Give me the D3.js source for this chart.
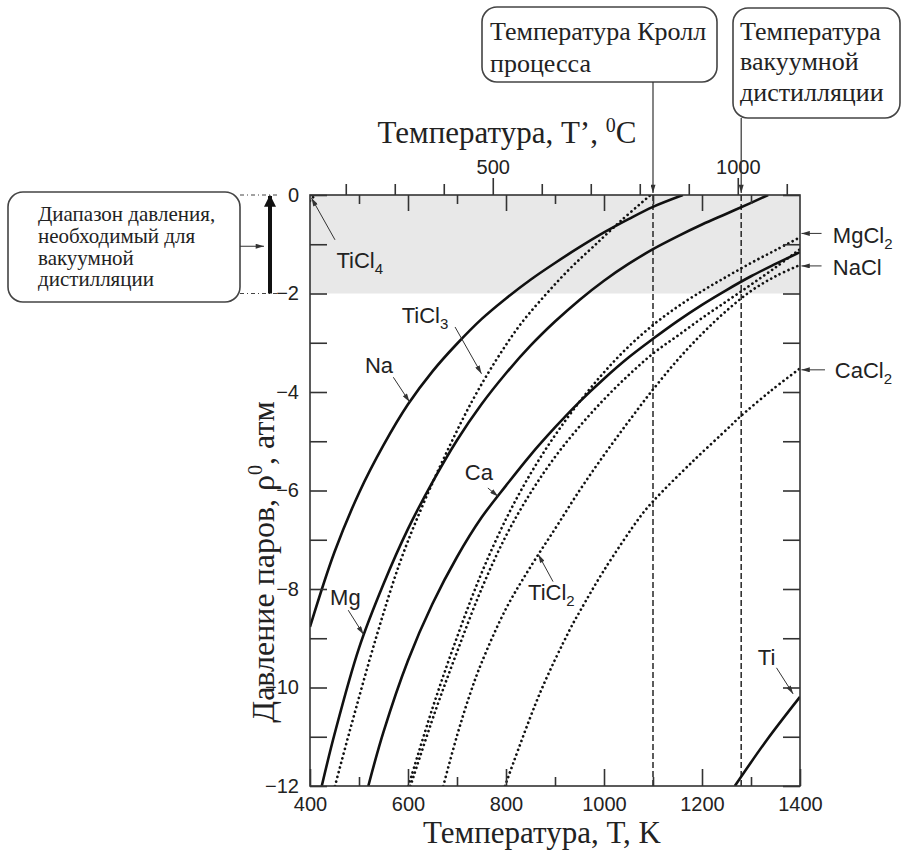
<!DOCTYPE html>
<html><head><meta charset="utf-8">
<script src="https://cdn.jsdelivr.net/npm/d3@7"></script>
<style>body{margin:0;background:#fff}</style>
</head><body><svg id="c" width="903" height="852"></svg>
<script>
// ---- data (T in K, log10 p in atm) ----
const Na    = [[400,-8.77],[450,-7.25],[500,-6.05],[550,-5.08],[600,-4.25],[650,-3.58],[700,-3.02],[750,-2.52],[800,-2.1],[850,-1.72],[900,-1.38],[950,-1.06],[1000,-0.76],[1050,-0.49],[1100,-0.24],[1161,0]];
const Mg    = [[424,-12],[450,-10.95],[500,-9.2],[550,-7.9],[600,-6.78],[650,-5.83],[700,-4.98],[750,-4.25],[800,-3.62],[850,-3.06],[900,-2.57],[950,-2.13],[1000,-1.74],[1050,-1.4],[1100,-1.1],[1150,-0.84],[1200,-0.6],[1250,-0.38],[1300,-0.16],[1335,0]];
const Ca    = [[519,-12],[550,-10.9],[600,-9.45],[650,-8.3],[700,-7.35],[750,-6.55],[800,-5.9],[850,-5.28],[900,-4.72],[950,-4.2],[1000,-3.73],[1050,-3.3],[1100,-2.92],[1150,-2.56],[1200,-2.23],[1250,-1.93],[1300,-1.65],[1350,-1.4],[1400,-1.16]];
const Ti    = [[1267,-12],[1332,-11.07],[1400,-10.19]];
const TiCl4 = [[400,-0.12],[410,0]];
const TiCl3 = [[451,-12],[482,-10.85],[536,-8.95],[584,-7.45],[630,-6.3],[680,-5.2],[730,-4.2],[780,-3.35],[830,-2.62],[883,-2.0],[930,-1.5],[978,-1.05],[1035,-0.52],[1095,0]];
const TiCl2 = [[672,-12],[700,-10.98],[726,-10.15],[750,-9.5],[800,-8.4],[850,-7.55],[900,-6.78],[950,-6.0],[1000,-5.28],[1050,-4.6],[1100,-3.95],[1150,-3.35],[1200,-2.82],[1250,-2.35],[1300,-1.95],[1350,-1.65],[1400,-1.42]];
const MgCl2 = [[601,-12],[650,-10.42],[700,-8.98],[750,-7.68],[800,-6.58],[850,-5.66],[900,-4.88],[950,-4.2],[1000,-3.6],[1050,-3.08],[1100,-2.64],[1150,-2.27],[1200,-1.95],[1250,-1.66],[1300,-1.38],[1350,-1.12],[1400,-0.86]];
const NaCl  = [[605,-12],[655,-10.5],[700,-9.28],[750,-8.0],[800,-6.92],[850,-6.05],[900,-5.32],[950,-4.7],[1000,-4.15],[1050,-3.66],[1100,-3.22],[1150,-2.86],[1200,-2.5],[1250,-2.16],[1300,-1.82],[1350,-1.47],[1400,-1.1]];
const CaCl2 = [[798,-12],[869,-10.12],[930,-8.83],[951,-8.45],[1000,-7.62],[1074,-6.53],[1100,-6.22],[1180,-5.42],[1257,-4.7],[1278,-4.5],[1340,-3.98],[1400,-3.52]];
const solidSeries  = [Na, Mg, Ca, Ti];
const dottedSeries = [TiCl4, TiCl3, TiCl2, MgCl2, NaCl, CaCl2];
const krollT = 1100, vacuumT = 1280;
const rangeTop = 0, rangeBottom = -2;
const kMajor = [400,600,800,1000,1200,1400];
const kMinor = [500,700,900,1100,1300];
const cMajor = [500,1000];
const cMinor = [200,300,400,600,700,800,900,1100];
const pMajor = [0,-2,-4,-6,-8,-10,-12];
const pMinor = [-1,-3,-5,-7,-9,-11];

const svg = d3.select("#c");
const L=310,R=800,T0=195,B=786;
const x = d3.scaleLinear().domain([400,1400]).range([L,R]);
const xC = d3.scaleLinear().domain([400-273,1400-273]).range([L,R]);
const y = d3.scaleLinear().domain([-12,0]).range([B,T0]);
const serif = "'Liberation Serif','Times New Roman',serif";
const sans = "'Liberation Sans',Arial,sans-serif";
const ink = "#222";

const defs = svg.append("defs");
defs.append("clipPath").attr("id","plot").append("rect").attr("x",L).attr("y",T0).attr("width",R-L).attr("height",B-T0);
defs.append("marker").attr("id","ah").attr("viewBox","0 0 10 6").attr("refX",10).attr("refY",3)
  .attr("markerWidth",9).attr("markerHeight",5).attr("markerUnits","userSpaceOnUse").attr("orient","auto")
  .append("path").attr("d","M0,0L10,3L0,6Z").attr("fill","#333");
defs.append("marker").attr("id","big").attr("viewBox","0 0 10 10").attr("refX",9).attr("refY",5)
  .attr("markerWidth",12).attr("markerHeight",18).attr("markerUnits","userSpaceOnUse").attr("orient","auto")
  .append("path").attr("d","M0,0L10,5L0,10Z").attr("fill","#111");

// shaded pressure range
svg.append("rect").attr("x",L).attr("y",y(rangeTop)).attr("width",R-L).attr("height",y(rangeBottom)-y(rangeTop)).attr("fill","#e8e8e8");

// dashed verticals
[krollT,vacuumT].forEach(t=>{
  svg.append("line").attr("x1",x(t)).attr("x2",x(t)).attr("y1",T0).attr("y2",B)
    .attr("stroke","#333").attr("stroke-width",1.6).attr("stroke-dasharray","6 3");
});

const line = d3.line().x(d=>x(d[0])).y(d=>y(d[1])).curve(d3.curveCatmullRom.alpha(0.5));
const pg = svg.append("g").attr("clip-path","url(#plot)");
pg.selectAll("path.s").data(solidSeries).join("path").attr("class","s").attr("d",line)
  .attr("fill","none").attr("stroke","#111").attr("stroke-width",2.6);
pg.selectAll("path.d").data(dottedSeries).join("path").attr("class","d").attr("d",line)
  .attr("fill","none").attr("stroke","#111").attr("stroke-width",2.7)
  .attr("stroke-linecap","round").attr("stroke-dasharray","0.01 4.8");

// frame
svg.append("rect").attr("x",L).attr("y",T0).attr("width",R-L).attr("height",B-T0)
  .attr("fill","none").attr("stroke","#333").attr("stroke-width",1.6);

function styleAxis(g, size){
  g.select(".domain").remove();
  g.selectAll("line").attr("stroke","#333").attr("stroke-width",1.6);
  g.selectAll("text").attr("font-family",sans).attr("font-size",size).attr("fill",ink);
}
const fmt = d3.format("d");
svg.append("g").attr("transform",`translate(0,${B})`)
  .call(d3.axisBottom(x).tickValues(kMajor).tickSizeInner(-17).tickSizeOuter(0).tickPadding(11).tickFormat(fmt)).call(styleAxis,20);
svg.append("g").attr("transform",`translate(0,${B})`)
  .call(d3.axisBottom(x).tickValues(kMinor).tickSizeInner(-9).tickSizeOuter(0).tickFormat("")).call(styleAxis,20);
svg.append("g").attr("transform",`translate(0,${T0})`)
  .call(d3.axisTop(x).tickValues([600,800,1000,1200]).tickSizeInner(-16).tickSizeOuter(0).tickFormat("")).call(styleAxis,20);
svg.append("g").attr("transform",`translate(0,${T0})`)
  .call(d3.axisTop(x).tickValues(kMinor).tickSizeInner(-9).tickSizeOuter(0).tickFormat("")).call(styleAxis,20);
svg.append("g").attr("transform",`translate(0,${T0})`)
  .call(d3.axisTop(xC).tickValues(cMajor).tickSizeInner(17).tickSizeOuter(0).tickPadding(4).tickFormat(fmt)).call(styleAxis,20);
svg.append("g").attr("transform",`translate(0,${T0})`)
  .call(d3.axisTop(xC).tickValues(cMinor).tickSizeInner(11).tickSizeOuter(0).tickFormat("")).call(styleAxis,20);
svg.append("g").attr("transform",`translate(${L},0)`)
  .call(d3.axisLeft(y).tickValues(pMajor).tickSizeInner(-17).tickSizeOuter(0).tickPadding(11).tickFormat(d3.format("d"))).call(styleAxis,20);
svg.append("g").attr("transform",`translate(${L},0)`)
  .call(d3.axisLeft(y).tickValues(pMinor).tickSizeInner(-17).tickSizeOuter(0).tickFormat("")).call(styleAxis,20);
svg.append("g").attr("transform",`translate(${R},0)`)
  .call(d3.axisRight(y).tickValues(pMajor.concat(pMinor)).tickSizeInner(-17).tickSizeOuter(0).tickFormat("")).call(styleAxis,20);

// axis titles
svg.append("text").attr("x",542).attr("y",843).attr("text-anchor","middle").attr("font-family",serif).attr("font-size",31).attr("fill",ink).text("Температура, T, K");
const tt = svg.append("text").attr("x",507).attr("y",143).attr("text-anchor","middle").attr("font-family",serif).attr("font-size",31).attr("fill",ink);
tt.append("tspan").text("Температура, T’, ");
tt.append("tspan").attr("font-size",20).attr("dy",-11).text("0");
tt.append("tspan").attr("dy",11).text("C");
const yt = svg.append("text").attr("transform","translate(274,562) rotate(-90)").attr("text-anchor","middle").attr("font-family",serif).attr("font-size",32).attr("fill",ink);
yt.append("tspan").text("Давление паров, ρ");
yt.append("tspan").attr("font-size",20).attr("dy",-12).text("0");
yt.append("tspan").attr("dy",12).text(", атм");

// curve labels (positions in data coords)
const labels = [
  {t:"TiCl", s:"4", at:[454,-1.49], from:[451,-0.91], to:[403,-0.06]},
  {t:"TiCl", s:"3", at:[587,-2.6],  from:[696,-2.68], to:[750,-3.63]},
  {t:"Na",   s:"",  at:[512,-3.62], from:[570,-3.7],  to:[603,-4.2]},
  {t:"Ca",   s:"",  at:[716,-5.79], from:[763,-5.95], to:[784,-6.12]},
  {t:"Mg",   s:"",  at:[441,-8.32], from:[478,-8.43], to:[509,-8.92]},
  {t:"TiCl", s:"2", at:[845,-8.22], from:[896,-7.85], to:[866,-7.3]},
  {t:"Ti",   s:"",  at:[1314,-9.54],from:[1352,-9.6], to:[1386,-10.13]},
  {t:"MgCl", s:"2", at:[1467,-0.98],from:[1444,-0.78],to:[1403,-0.78]},
  {t:"NaCl", s:"",  at:[1467,-1.62],from:[1444,-1.44],to:[1403,-1.44]},
  {t:"CaCl", s:"2", at:[1471,-3.72],from:[1451,-3.55],to:[1403,-3.55]}
];
labels.forEach(l=>{
  const tx = svg.append("text").attr("x",x(l.at[0])).attr("y",y(l.at[1])).attr("font-family",sans).attr("font-size",22).attr("fill",ink);
  tx.append("tspan").text(l.t);
  if(l.s) tx.append("tspan").attr("font-size",15).attr("dy",6).text(l.s);
  svg.append("line").attr("x1",x(l.from[0])).attr("y1",y(l.from[1])).attr("x2",x(l.to[0])).attr("y2",y(l.to[1]))
    .attr("stroke","#333").attr("stroke-width",1).attr("marker-end","url(#ah)");
});

// boxes
function box(x0,y0,w,h,lines,fs,bx,by,lh){
  svg.append("rect").attr("x",x0).attr("y",y0).attr("width",w).attr("height",h).attr("rx",15)
    .attr("fill","#fff").attr("stroke","#444").attr("stroke-width",1.6);
  lines.forEach((s,i)=>svg.append("text").attr("x",bx).attr("y",by+i*lh).attr("font-family",serif)
    .attr("font-size",fs).attr("fill",ink).text(s));
}
box(482,7,235,75,["Температура Кролл","процесса"],26,490,40,31.5);
box(733,8,167,110,["Температура","вакуумной","дистилляции"],26,740,40,30.3);
box(8,192,232,110,["Диапазон давления,","необходимый для","вакуумной","дистилляции"],21,38,221,21.8);

// pointers from boxes
svg.append("line").attr("x1",x(krollT)).attr("x2",x(krollT)).attr("y1",82).attr("y2",T0-2).attr("stroke","#333").attr("stroke-width",1.2).attr("marker-end","url(#ah)");
svg.append("line").attr("x1",x(vacuumT)).attr("x2",x(vacuumT)).attr("y1",118).attr("y2",T0-2).attr("stroke","#333").attr("stroke-width",1.2).attr("marker-end","url(#ah)");
[rangeTop,rangeBottom].forEach(v=>svg.append("line").attr("x1",240).attr("x2",279).attr("y1",y(v)).attr("y2",y(v))
  .attr("stroke","#444").attr("stroke-width",1).attr("stroke-dasharray","4 3 1 3"));
svg.append("line").attr("x1",270).attr("x2",270).attr("y1",y(rangeBottom)).attr("y2",y(rangeTop)+1)
  .attr("stroke","#111").attr("stroke-width",4).attr("marker-end","url(#big)");
svg.append("line").attr("x1",240).attr("x2",264).attr("y1",y(-1)+2).attr("y2",y(-1)+2)
  .attr("stroke","#333").attr("stroke-width",1).attr("marker-end","url(#ah)");
</script></body></html>
